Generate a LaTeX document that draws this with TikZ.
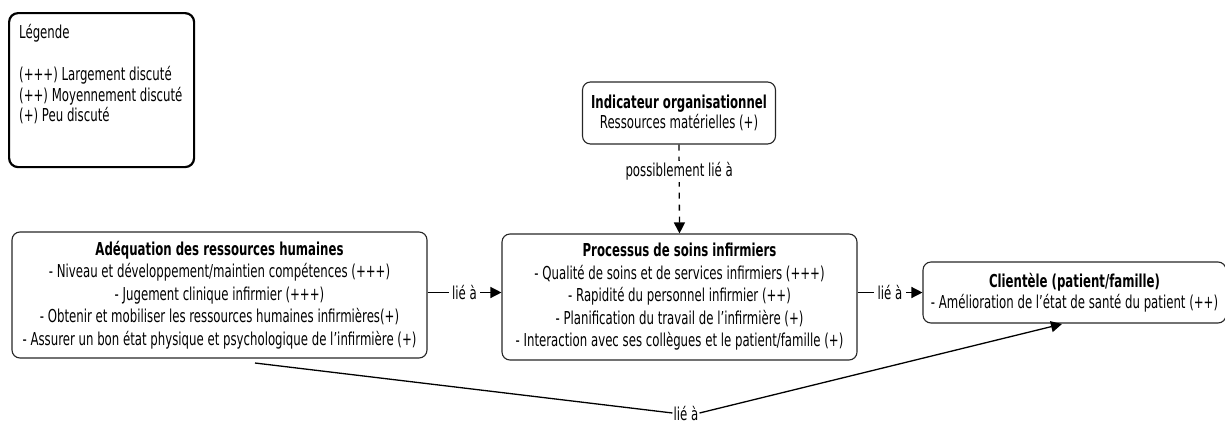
\documentclass[tikz,border=0pt]{standalone}
\usepackage{fontspec}
\setmainfont{DejaVu Sans}[FakeStretch=0.66]
\usetikzlibrary{arrows.meta,calc}
\newcommand{\fs}{\fontsize{17.8}{22.5}\selectfont}
\newcommand{\fss}{\fontsize{17.8}{20.5}\selectfont}
\tikzset{
  box/.style={draw=black!85, line width=1.1pt, rounded corners=8pt, align=center, inner sep=0pt},
  legbox/.style={draw=black, line width=2.2pt, rounded corners=9pt},
  lbl/.style={fill=white, inner ysep=1.5pt, inner xsep=3.5pt, font=\fs},
  link/.style={line width=1.3pt, -{Triangle[length=11pt,width=11pt]}},
  plain/.style={line width=1.3pt},
}
\begin{document}
\begin{tikzpicture}[x=1pt,y=-1pt]
\useasboundingbox (0,0) rectangle (1225,426);
% legend
\node[legbox, minimum width=185pt, minimum height=154pt, anchor=north west] (leg) at (8,12) {};
\node[anchor=north west, align=left, inner sep=0pt, font=\fss] (legtxt) at (19,24)
  {Légende\\[22pt](+++) Largement discuté\\(++) Moyennement discuté\\(+) Peu discuté};
% boxes
\node[box, minimum width=415pt, minimum height=126pt, font=\fs] (adq) at (219.5,295)
  {\textbf{Adéquation des ressources humaines}\\
   - Niveau et développement/maintien compétences (+++)\\
   - Jugement clinique infirmier (+++)\\
   - Obtenir et mobiliser les ressources humaines infirmières(+)\\
   - Assurer un bon état physique et psychologique de l'infirmière (+)};
\node[box, minimum width=355pt, minimum height=126pt, font=\fs] (proc) at (679.5,297)
  {\textbf{Processus de soins infirmiers}\\
   - Qualité de soins et de services infirmiers (+++)\\
   - Rapidité du personnel infirmier (++)\\
   - Planification du travail de l'infirmière (+)\\
   - Interaction avec ses collègues et le patient/famille (+)};
\node[box, minimum width=303pt, minimum height=61pt, font=\fss] (cli) at (1074.5,292.5)
  {\textbf{Clientèle (patient/famille)}\\
   - Amélioration de l'état de santé du patient (++)};
\node[box, minimum width=193pt, minimum height=62pt, font=\fss] (ind) at (679,113)
  {\textbf{Indicateur organisationnel}\\
   Ressources matérielles (+)};
% connectors
\draw[link] (adq.east |- cli.west) -- node[lbl]{lié à} (proc.west |- cli.west);
\draw[link] (proc.east |- cli.west) -- node[lbl]{lié à} (cli.west);
\draw[link, dash pattern=on 6pt off 6pt] (ind.south) -- node[lbl, pos=0.3]{possiblement lié à} (proc.north);
\coordinate (bstart) at (255,363);
\coordinate (bend) at (1062,324);
\node[font=\fs, inner sep=1pt] (blbl) at (686,413) {lié à};
\draw[plain] (bstart) -- (blbl.west);
\draw[link] (blbl.east) -- (bend);
\end{tikzpicture}
\end{document}
